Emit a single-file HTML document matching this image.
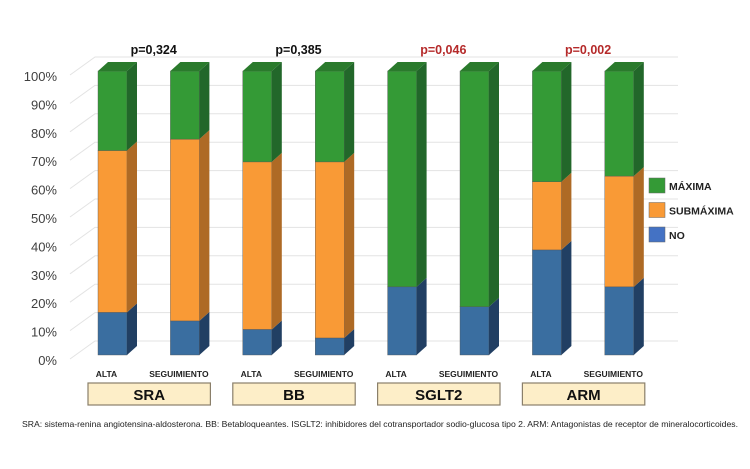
<!DOCTYPE html>
<html><head><meta charset="utf-8"><style>
body{margin:0;background:#fff;}
svg{display:block;font-family:"Liberation Sans",sans-serif;}
</style></head><body>
<svg id="c" width="750" height="469" viewBox="0 0 750 469"></svg>
<script>
const categories=["SRA","BB","SGLT2","ARM"];
const periods=["ALTA","SEGUIMIENTO"];
const pvalues=["p=0,324","p=0,385","p=0,046","p=0,002"];
const pSignificant=[false,false,true,true];
const noVals=[15,12,9,6,24,17,37,24];
const subVals=[57,64,59,62,0,0,24,39];
const maxVals=[28,24,32,32,76,83,39,37];
const yTicks=[0,10,20,30,40,50,60,70,80,90,100];
const seriesNames=["MÁXIMA","SUBMÁXIMA","NO"];
const NS="http://www.w3.org/2000/svg";
const svg=document.getElementById('c');
function mk(t,a,p){const e=document.createElementNS(NS,t);for(const k in a)e.setAttribute(k,a[k]);(p||svg).appendChild(e);return e;}
const y0=355,pxPer=2.84;
function yS(v){return y0-v*pxPer;}
function xBar(i){return 98+i*72.4;}
const bw=29,dx=10,dy=9;
const gg=mk('g',{});

yTicks.forEach(t=>{
  const y=yS(t);
  mk('polyline',{points:`70,${y+4} 95,${y-14} 678,${y-14}`,fill:'none',stroke:'#e3e3e3','stroke-width':1},gg);
  const l=mk('text',{x:57,y:y+10,'text-anchor':'end','font-size':13,fill:'#404040'});
  l.textContent=t+'%';
  
});
const cols=[["#3a6ea0","#213f63","#2a5280"],["#f99a36","#ae6a25","#d08030"],["#349a36","#22672a","#2a7a2c"]];
for(let i=0;i<8;i++){
  const g=mk('g',{});
  
  
  const x=xBar(i);let base=0;
  [noVals[i],subVals[i],maxVals[i]].forEach((v,s)=>{
    if(v<=0)return;
    const yb=yS(base),yt=yS(base+v);
    const r=mk('rect',{x:x,y:yt,width:bw,height:yb-yt,fill:cols[s][0],stroke:'#555','stroke-width':0.4},g);
    
    
    mk('polygon',{points:`${x+bw},${yt} ${x+bw+dx},${yt-dy} ${x+bw+dx},${yb-dy} ${x+bw},${yb}`,fill:cols[s][1]},g);
    base+=v;
  });
  const yt=yS(base);
  const top=[noVals,subVals,maxVals].map(a=>a[i]);const ts=top[2]>0?2:(top[1]>0?1:0);
  mk('polygon',{points:`${x},${yt} ${x+dx},${yt-dy} ${x+bw+dx},${yt-dy} ${x+bw},${yt}`,fill:cols[ts][2]},g);
  const pl=mk('text',{x:x+bw/2-6+(i%2?0:0),y:377,'text-anchor':'middle','font-size':8.5,'font-weight':'bold',fill:'#222'});
  pl.textContent=periods[i%2];
  
}
categories.forEach((c,k)=>{
  const x1=xBar(2*k)-10,x2=xBar(2*k+1)+bw+11;
  const r=mk('rect',{x:x1,y:383,width:x2-x1,height:22,fill:'#fdeec8',stroke:'#8a7f6a','stroke-width':1.2});
  
  const t=mk('text',{x:(x1+x2)/2,y:400,'text-anchor':'middle','font-size':15,'font-weight':'bold',fill:'#111'});
  t.textContent=c;
  const p=mk('text',{x:(xBar(2*k)+xBar(2*k+1)+bw)/2+5,y:54,'text-anchor':'middle','font-size':12.5,'font-weight':'bold',fill:pSignificant[k]?'#b52a2a':'#111'});
  p.textContent=pvalues[k];
});
const legCols=["#349a36","#f99a36","#4472c4"];
seriesNames.forEach((n,s)=>{
  const g=mk('g',{});
  
  const y=178+s*24.5;
  mk('rect',{x:649,y:y,width:16,height:15,fill:legCols[s],stroke:'#666','stroke-width':0.5},g);
  const t=mk('text',{x:669,y:y+12,'font-size':10.5,'font-weight':'bold',fill:'#222'},g);
  t.textContent=n;
});
const f=mk('text',{x:22,y:427,'font-size':8.5,fill:'#222',textLength:716,lengthAdjust:'spacingAndGlyphs'});
f.textContent="SRA: sistema-renina  angiotensina-aldosterona.    BB: Betabloqueantes.    ISGLT2: inhibidores  del cotransportador  sodio-glucosa  tipo 2.   ARM: Antagonistas de receptor de mineralocorticoides.";

</script>
</body></html>
